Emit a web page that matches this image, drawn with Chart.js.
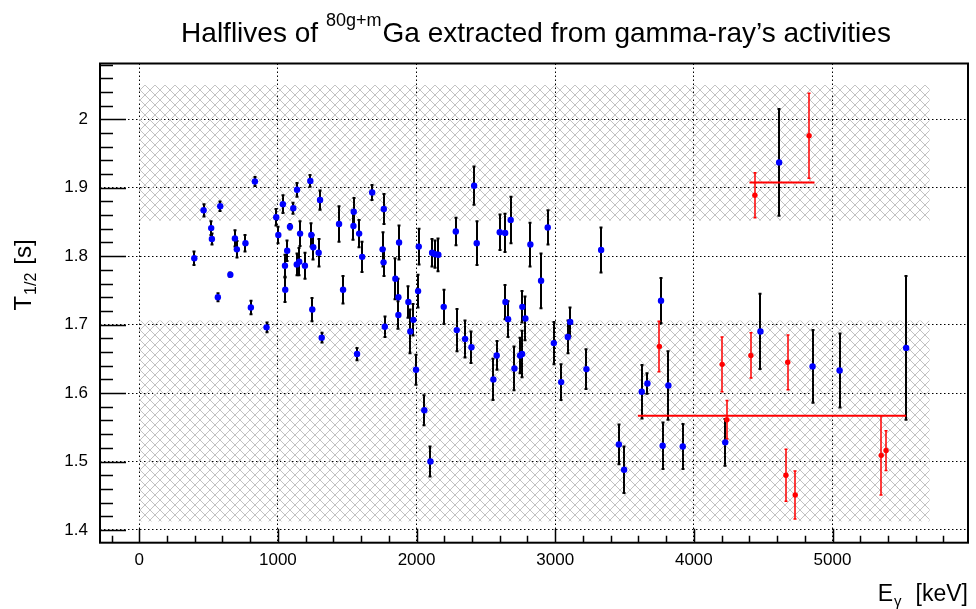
<!DOCTYPE html>
<html>
<head>
<meta charset="utf-8">
<title>Halflives 80Ga</title>
<script src="https://cdn.jsdelivr.net/npm/chart.js@4.4.0/dist/chart.umd.min.js"></script>
<style>
  body { margin: 0; background: #fff; }
  #caixa { width: 976px; height: 609px; position: relative; }
</style>
</head>
<body>
<div id="caixa"><canvas id="grafico"></canvas></div>
<script>
// Pontos azuis: energia (keV), meia-vida (s) e erro
const energiaAzul = [397, 464, 519, 524, 567, 584, 657, 690, 704, 766,
  805, 834, 918, 988, 1003, 1036, 1051, 1053, 1067, 1087,
  1111, 1136, 1138, 1154, 1160, 1195, 1234, 1241, 1248, 1255,
  1294, 1304, 1316, 1441, 1470, 1545, 1547, 1571, 1586, 1608,
  1680, 1755, 1762, 1764, 1771, 1847, 1869, 1869, 1874, 1941,
  1955, 1977, 1996, 2011, 2016, 2056, 2100, 2112, 2133, 2157,
  2196, 2283, 2290, 2350, 2396, 2415, 2434, 2554, 2578, 2600,
  2639, 2641, 2660, 2679, 2706, 2747, 2761, 2763, 2785, 2821,
  2898, 2946, 2990, 3043, 3091, 3108, 3225, 3331, 3459, 3497,
  3624, 3665, 3763, 3775, 3816, 3920, 4226, 4480, 4615, 4856,
  5051, 5531];
const meiaVidaAzul = [1.797, 1.867, 1.841, 1.825, 1.740, 1.873, 1.773, 1.826, 1.810, 1.819,
  1.725, 1.909, 1.696, 1.857, 1.831, 1.876, 1.786, 1.751, 1.808, 1.843,
  1.870, 1.788, 1.897, 1.792, 1.833, 1.786, 1.910, 1.831, 1.722, 1.813,
  1.805, 1.882, 1.681, 1.847, 1.751, 1.844, 1.865, 1.657, 1.833, 1.799,
  1.893, 1.810, 1.791, 1.869, 1.697, 1.767, 1.740, 1.714, 1.820, 1.733,
  1.690, 1.707, 1.634, 1.749, 1.814, 1.575, 1.500, 1.805, 1.803, 1.802,
  1.726, 1.836, 1.692, 1.679, 1.667, 1.903, 1.819, 1.620, 1.655, 1.835,
  1.834, 1.733, 1.708, 1.853, 1.636, 1.655, 1.657, 1.726, 1.709, 1.817,
  1.764, 1.842, 1.673, 1.616, 1.682, 1.704, 1.635, 1.809, 1.525, 1.488,
  1.602, 1.614, 1.735, 1.523, 1.611, 1.522, 1.528, 1.690, 1.937, 1.639,
  1.633, 1.666];
const erroAzul = [0.010, 0.009, 0.010, 0.008, 0.006, 0.007, 0.003, 0.012, 0.012, 0.012,
  0.010, 0.0065, 0.007, 0.012, 0.012, 0.013, 0.016, 0.018, 0.015, 0.004,
  0.008, 0.016, 0.010, 0.020, 0.018, 0.019, 0.0085, 0.017, 0.017, 0.018,
  0.020, 0.014, 0.007, 0.026, 0.020, 0.020, 0.020, 0.009, 0.020, 0.022,
  0.011, 0.025, 0.020, 0.022, 0.015, 0.030, 0.027, 0.020, 0.025, 0.023,
  0.032, 0.023, 0.022, 0.024, 0.026, 0.022, 0.022, 0.020, 0.020, 0.024,
  0.025, 0.020, 0.031, 0.027, 0.023, 0.028, 0.032, 0.030, 0.021, 0.026,
  0.028, 0.025, 0.026, 0.034, 0.032, 0.026, 0.034, 0.023, 0.032, 0.032,
  0.040, 0.025, 0.031, 0.026, 0.024, 0.021, 0.029, 0.033, 0.029, 0.034,
  0.039, 0.015, 0.033, 0.034, 0.050, 0.033, 0.034, 0.055, 0.078, 0.053,
  0.054, 0.105];

// Pontos vermelhos
const energiaVermelho = [3751, 4204, 4238, 4411, 4440, 4664, 4677, 4731, 4831, 5351, 5386];
const meiaVidaVermelho = [1.668, 1.642, 1.561, 1.655, 1.889, 1.480, 1.645, 1.451, 1.976, 1.509, 1.516];
const erroVermelho = [0.037, 0.040, 0.028, 0.033, 0.033, 0.038, 0.040, 0.035, 0.062, 0.058, 0.029];

// Médias (linhas vermelhas horizontais)
const mediaInicio = [3596, 4401];
const mediaFim = [5531, 4870];
const mediaValor = [1.567, 1.9075];

// Faixas hachuradas
const faixaEnergia = [0, 5700];
const faixaInferior = [1.4125, 1.706];
const faixaSuperior = [1.852, 2.05];

// Eixos
const ticksX = [0, 1000, 2000, 3000, 4000, 5000];
const ticksY = [1.4, 1.5, 1.6, 1.7, 1.8, 1.9, 2.0];
const limitesX = [-283, 5977];
const limitesY = [1.3814, 2.0815];

const fonte = "'Liberation Sans', Arial, Helvetica, sans-serif";
Chart.defaults.font.family = fonte;

// Padrão de hachura cruzada (cinza claro)
function criaHachura() {
    const c = document.createElement('canvas');
    c.width = 10;
    c.height = 10;
    const g = c.getContext('2d');
    g.strokeStyle = '#c2c2c2';
    g.lineWidth = 1;
    g.beginPath();
    g.moveTo(0, 0); g.lineTo(10, 10);
    g.moveTo(10, 0); g.lineTo(0, 10);
    g.stroke();
    return g.createPattern(c, 'repeat');
}
const hachura = criaHachura();

function desenhaErros(ctx, x, y, es, ts, erros, cor, largura) {
    ctx.strokeStyle = cor;
    ctx.lineWidth = largura;
    for (let i = 0; i < es.length; i++) {
        const px = Math.round(x.getPixelForValue(es[i]));
        const y0 = y.getPixelForValue(ts[i] + erros[i]);
        const y1 = y.getPixelForValue(ts[i] - erros[i]);
        ctx.beginPath();
        ctx.moveTo(px, y0); ctx.lineTo(px, y1);
        // pequenas travas nas pontas
        ctx.moveTo(px - 1.5, y0); ctx.lineTo(px + 1.5, y0);
        ctx.moveTo(px - 1.5, y1); ctx.lineTo(px + 1.5, y1);
        ctx.stroke();
    }
}

// Escreve partes de texto (normal / sobrescrito / subscrito) em sequência
function escrevePartes(ctx, partes, x0, base) {
    let px = x0;
    partes.forEach(p => {
        ctx.font = p.tam + 'px ' + fonte;
        px += p.antes || 0;
        ctx.fillText(p.txt, px, base + p.dy);
        px += ctx.measureText(p.txt).width;
    });
}
function larguraPartes(ctx, partes) {
    let w = 0;
    partes.forEach(p => {
        ctx.font = p.tam + 'px ' + fonte;
        w += (p.antes || 0) + ctx.measureText(p.txt).width;
    });
    return w;
}

const pluginDesenho = {
    id: 'desenho',
    beforeDatasetsDraw(chart) {
        const { ctx, scales: { x, y } } = chart;
        ctx.save();
        ctx.fillStyle = hachura;
        [faixaInferior, faixaSuperior].forEach(f => {
            const x0 = x.getPixelForValue(faixaEnergia[0]);
            const x1 = x.getPixelForValue(faixaEnergia[1]);
            const y0 = y.getPixelForValue(f[1]);
            const y1 = y.getPixelForValue(f[0]);
            ctx.fillRect(x0, y0, x1 - x0, y1 - y0);
        });
        desenhaErros(ctx, x, y, energiaAzul, meiaVidaAzul, erroAzul, '#000', 2);
        desenhaErros(ctx, x, y, energiaVermelho, meiaVidaVermelho, erroVermelho, '#ff0000', 1.5);
        ctx.restore();
    },
    afterDraw(chart) {
        const { ctx, chartArea: a, scales: { x, y } } = chart;
        ctx.save();
        // moldura
        ctx.strokeStyle = '#000';
        ctx.lineWidth = 2;
        ctx.strokeRect(a.left, a.top, a.right - a.left, a.bottom - a.top);

        // marcas internas do eixo Y (principais e secundárias)
        ctx.lineWidth = 1.5;
        ctx.beginPath();
        const passoY = (ticksY[1] - ticksY[0]) / 5;
        for (let v = ticksY[0] - 5 * passoY; v <= limitesY[1]; v += passoY) {
            if (v < limitesY[0]) continue;
            const py = Math.round(y.getPixelForValue(v)) + 0.5;
            const principal = ticksY.some(t => Math.abs(t - v) < 1e-6);
            ctx.moveTo(a.left, py);
            ctx.lineTo(a.left + (principal ? 26 : 13), py);
        }
        // marcas internas do eixo X
        const passoX = (ticksX[1] - ticksX[0]) / 5;
        for (let v = ticksX[0] - 5 * passoX; v <= limitesX[1]; v += passoX) {
            if (v < limitesX[0]) continue;
            const px = Math.round(x.getPixelForValue(v)) + 0.5;
            const principal = ticksX.includes(v);
            ctx.moveTo(px, a.bottom);
            ctx.lineTo(px, a.bottom - (principal ? 14 : 7));
        }
        ctx.stroke();

        ctx.fillStyle = '#000';
        ctx.textAlign = 'left';
        ctx.textBaseline = 'alphabetic';

        // título com sobrescrito
        const titulo = [
            { txt: 'Halflives of', tam: 28, dy: 0 },
            { txt: '80g+m', tam: 18, dy: -16, antes: 8 },
            { txt: 'Ga extracted from gamma-ray\u2019s activities', tam: 28, dy: 0, antes: 1 }
        ];
        const wt = larguraPartes(ctx, titulo);
        escrevePartes(ctx, titulo, 536 - wt / 2, 41.5);

        // título do eixo X
        const tituloX = [
            { txt: 'E', tam: 23, dy: 0 },
            { txt: '\u03B3', tam: 15, dy: 5, antes: 1 },
            { txt: '[keV]', tam: 23, dy: 0, antes: 14 }
        ];
        const wx = larguraPartes(ctx, tituloX);
        escrevePartes(ctx, tituloX, a.right - wx, 601);

        // título do eixo Y (girado)
        const tituloY = [
            { txt: 'T', tam: 24, dy: 0 },
            { txt: '1/2', tam: 16, dy: 5, antes: 1 },
            { txt: '[s]', tam: 24, dy: 0, antes: 8 }
        ];
        const wy = larguraPartes(ctx, tituloY);
        ctx.translate(31, 275 + wy / 2);
        ctx.rotate(-Math.PI / 2);
        escrevePartes(ctx, tituloY, 0, 0);
        ctx.restore();
    }
};

const pontosAzuis = energiaAzul.map((e, i) => ({ x: e, y: meiaVidaAzul[i] }));
const pontosVermelhos = energiaVermelho.map((e, i) => ({ x: e, y: meiaVidaVermelho[i] }));
const linhasMedia = mediaValor.map((v, i) => ({
    data: [{ x: mediaInicio[i], y: v }, { x: mediaFim[i], y: v }],
    showLine: true,
    borderColor: '#ff0000',
    borderWidth: 2,
    pointRadius: 0
}));

const ctxGrafico = document.getElementById('grafico').getContext('2d');
const grafico = new Chart(ctxGrafico, {
    type: 'scatter',
    data: {
        datasets: [
            ...linhasMedia,
            {
                data: pontosVermelhos,
                backgroundColor: '#ff0000',
                borderWidth: 0,
                pointRadius: 2.7
            },
            {
                data: pontosAzuis,
                backgroundColor: '#0000ff',
                borderWidth: 0,
                pointRadius: 3.2
            }
        ]
    },
    options: {
        responsive: true,
        maintainAspectRatio: false,
        animation: false,
        layout: { padding: { top: 63.5, right: 8, left: 0, bottom: 0 } },
        plugins: {
            legend: { display: false },
            tooltip: { enabled: false },
            title: { display: false }
        },
        scales: {
            x: {
                type: 'linear',
                min: limitesX[0],
                max: limitesX[1],
                afterBuildTicks: s => { s.ticks = ticksX.map(v => ({ value: v })); },
                afterFit: s => { s.height = 66.3; },
                grid: { color: '#000', lineWidth: 1, drawTicks: false },
                border: { display: true, width: 0, dash: [1.5, 2.5] },
                ticks: {
                    padding: 7,
                    color: '#000',
                    font: { size: 17 },
                    maxRotation: 0,
                    autoSkip: false,
                    callback: v => String(v)
                }
            },
            y: {
                type: 'linear',
                min: limitesY[0],
                max: limitesY[1],
                afterBuildTicks: s => { s.ticks = ticksY.map(v => ({ value: v })); },
                afterFit: s => { s.width = 100; },
                grid: { color: '#000', lineWidth: 1, drawTicks: false },
                border: { display: true, width: 0, dash: [1.5, 2.5] },
                ticks: {
                    padding: 12,
                    color: '#000',
                    font: { size: 17 },
                    autoSkip: false,
                    callback: v => String(+v.toFixed(1))
                }
            }
        }
    },
    plugins: [pluginDesenho]
});
</script>
</body>
</html>
